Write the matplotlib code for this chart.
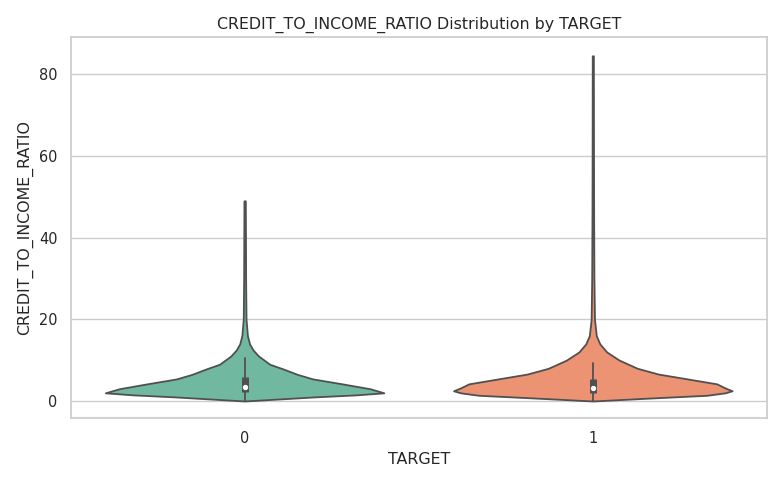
import numpy as np
import matplotlib.pyplot as plt
import seaborn as sns

sns.set_theme(style="whitegrid", font_scale=0.95)

# density profile (y value, relative half-width)
y0 = [0, 0.5, 1, 1.5, 2, 3, 4.2, 5.4, 6.5, 7.8, 9, 11, 12.5, 14, 16, 20, 30, 40, 49]
w0 = [0.0, 0.25, 0.5, 0.8, 1.0, 0.9, 0.7, 0.49, 0.38, 0.28, 0.18, 0.1, 0.06, 0.035, 0.02, 0.01, 0.007, 0.006, 0.005]
y1 = [0, 0.7, 1.4, 2, 2.5, 3.2, 4.2, 5.4, 6.6, 8, 10, 12, 14, 16, 20, 30, 45, 60, 84.5]
w1 = [0.0, 0.4, 0.82, 0.95, 1.0, 0.95, 0.89, 0.68, 0.47, 0.32, 0.19, 0.1, 0.05, 0.025, 0.012, 0.008, 0.006, 0.005, 0.004]

# box stats: whisker low, q1, median, q3, whisker high
box0 = [0.1, 2.3, 3.4, 5.8, 10.5]
box1 = [0.1, 2.0, 3.2, 5.4, 9.2]

targets = ["0", "1"]
colors = ["#70b89f", "#eb9373"]

fig, ax = plt.subplots(figsize=(7.84, 4.84), dpi=100)
for i, (yy, ww, bx, c) in enumerate(zip([y0, y1], [w0, w1], [box0, box1], colors)):
    yy = np.array(yy)
    ww = np.array(ww) * 0.4
    ax.fill_betweenx(yy, i - ww, i + ww, facecolor=c, edgecolor="#505050", linewidth=1.3, zorder=2)
    ax.plot([i, i], [bx[0], bx[4]], color="#505050", lw=1.3, zorder=3)
    ax.plot([i, i], [bx[1], bx[3]], color="#505050", lw=5, solid_capstyle="butt", zorder=3)
    ax.scatter([i], [bx[2]], color="white", s=8, zorder=4)

ax.set_xticks([0, 1])
ax.set_xticklabels(targets)
ax.set_xlim(-0.5, 1.5)
ax.set_ylim(-4.2, 89)
ax.set_yticks([0, 20, 40, 60, 80])
ax.xaxis.grid(False)
ax.set_xlabel("TARGET")
ax.set_ylabel("CREDIT_TO_INCOME_RATIO")
ax.set_title("CREDIT_TO_INCOME_RATIO Distribution by TARGET")
plt.tight_layout()
plt.savefig("out.png")
